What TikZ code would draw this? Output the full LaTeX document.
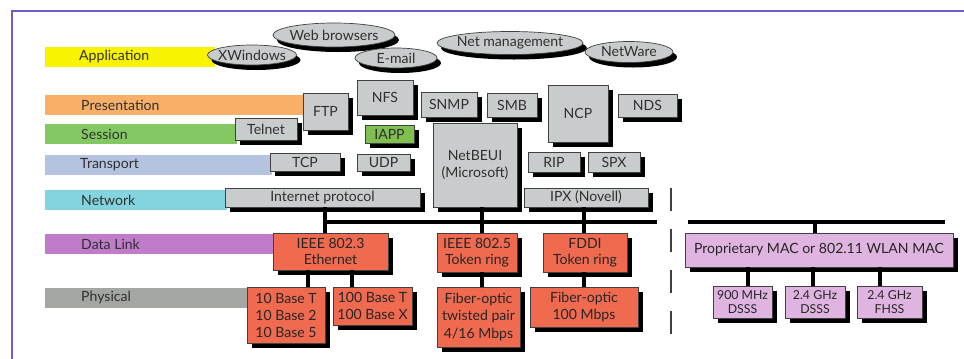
\documentclass[tikz,border=0pt]{standalone}
\usepackage{fontspec}
\setmainfont{Lato}
\usetikzlibrary{shapes.geometric}
\definecolor{boxgray}{HTML}{C8CCCC}
\definecolor{redbox}{HTML}{F06A50}
\definecolor{pinkbox}{HTML}{E0B4E0}
\definecolor{iappgreen}{HTML}{80C050}
\definecolor{framecol}{HTML}{6F5FC8}
\definecolor{appY}{HTML}{F8F400}
\definecolor{presO}{HTML}{F8B068}
\definecolor{sessG}{HTML}{84C864}
\definecolor{transB}{HTML}{B4C4E0}
\definecolor{netC}{HTML}{84D4E0}
\definecolor{dlP}{HTML}{C07CC8}
\definecolor{phyG}{HTML}{A4A6A2}
\definecolor{txt}{HTML}{303030}
\definecolor{shadowcol}{HTML}{000000}
% box with hard drop shadow: style, name, x1, y1, x2, y2, text
\newcommand\ShBox[7]{%
  \node[shadowbox,minimum width={(#5-#3)*0.03cm},minimum height={(#6-#4)*0.03cm}] (#2-shadow) at ({(#3+#5)/2+5},{(#4+#6)/2+5}) {};
  \node[#1,minimum width={(#5-#3)*0.03cm},minimum height={(#6-#4)*0.03cm}] (#2) at ({(#3+#5)/2},{(#4+#6)/2}) {#7};}
% ellipse with hard drop shadow: name, cx, cy, w, h, text
\newcommand\ShEll[6]{%
  \node[shadowbox,ellipse,minimum width={#4*0.03cm},minimum height={#5*0.03cm}] (#1-shadow) at (#2+4,#3+5) {};
  \node[gell={#4}{#5}] (#1) at (#2,#3) {#6};}
% plain coloured bar: name, colour, x1, y1, x2, y2
\newcommand\LBar[6]{%
  \node[bar,fill=#2,minimum width={(#5-#3)*0.03cm},minimum height={(#6-#4)*0.03cm}] (#1) at ({(#3+#5)/2},{(#4+#6)/2}) {};}
\begin{document}
\begin{tikzpicture}[x=0.03cm,y=-0.03cm,
  bar/.style={inner sep=0pt,draw=none},
  shadowbox/.style={fill=shadowcol,draw=none,inner sep=0pt,outer sep=0pt},
  lbl/.style={anchor=west,inner sep=0pt,font=\fontsize{12}{14}\selectfont,text=txt},
  gbox/.style={draw=black!75,fill=boxgray,line width=0.6pt,inner sep=0pt,align=center,font=\fontsize{12}{14}\selectfont,text=txt},
  rbox/.style={gbox,fill=redbox,text=black!85},
  pbox/.style={gbox,fill=pinkbox,text=black!85},
  gell/.style 2 args={ellipse,draw=black!75,fill=boxgray,line width=0.6pt,inner xsep=-2cm,inner ysep=-1cm,
     minimum width=#1*0.03cm,minimum height=#2*0.03cm,font=\fontsize{12}{14}\selectfont,text=txt},
  busline/.style={line width=3.4pt},
  stem/.style={line width=2.6pt},
  sepline/.style={line width=1.6pt,draw=black!75,dash pattern=on 0.69cm off 0.54cm}
]
\useasboundingbox (0,0) rectangle (964,358);
% frame
\draw[framecol,line width=2.2pt] (12,360) -- (12,11) -- (966,11);

% layer bars
\LBar{barapp}{appY}{45}{47}{215}{67}
\LBar{barpres}{presO}{45}{95}{305}{115}
\LBar{barsess}{sessG}{45}{124}{237}{144}
\LBar{bartrans}{transB}{45}{155}{272}{175}
\LBar{barnet}{netC}{45}{190}{227}{210}
\LBar{bardl}{dlP}{45}{234}{275}{254}
\LBar{barphy}{phyG}{45}{288}{249}{308}
\node[lbl] (lapp) at (79,57) {Application};
\node[lbl] (lpres) at (81,105) {Presentation};
\node[lbl] (lsess) at (81,134) {Session};
\node[lbl] (ltrans) at (80,165) {Transport};
\node[lbl] (lnet) at (81,200) {Network};
\node[lbl] (ldl) at (81,244) {Data Link};
\node[lbl] (lphy) at (81,298) {Physical};

% application ellipses
\ShEll{web}{334}{35}{122}{24}{Web browsers}
\ShEll{xw}{252}{55}{89}{20}{XWindows}
\ShEll{email}{396}{58}{82}{20}{E-mail}
\ShEll{netm}{510}{43}{146}{23}{Net management}
\ShEll{netw}{629}{52}{88}{21}{NetWare}

% upper boxes
\ShBox{gbox}{telnet}{235}{118}{297}{140}{Telnet}
\ShBox{gbox}{ftp}{303}{93}{348}{130}{FTP}
\ShBox{gbox}{nfs}{357}{80}{413}{115}{NFS}
\ShBox{gbox}{snmp}{421}{92}{477}{117}{SNMP}
\ShBox{gbox}{smb}{487}{93}{537}{117}{SMB}
\ShBox{gbox}{ncp}{548}{85}{608}{142}{NCP}
\ShBox{gbox}{nds}{618}{94}{677}{117}{NDS}
\ShBox{gbox,fill=iappgreen}{iapp}{365}{125}{414}{143}{IAPP}
\ShBox{gbox}{tcp}{270}{153}{340}{171}{TCP}
\ShBox{gbox}{udp}{357}{154}{410}{171}{UDP}
\ShBox{gbox}{nb}{433}{123}{517}{207}{NetBEUI\\(Microsoft)}
\ShBox{gbox}{rip}{528}{152}{580}{172}{RIP}
\ShBox{gbox}{spx}{588}{152}{640}{172}{SPX}
\ShBox{gbox}{ip}{225}{188}{420}{207}{Internet protocol}
\ShBox{gbox}{ipx}{524}{188}{648}{207}{IPX (Novell)}

% bus and stem positions
\coordinate (busL) at (325,222);
\coordinate (busR) at (657,222);
\coordinate (rbusL) at (688,222);
\coordinate (rbusR) at (945,222);
\coordinate (sip) at (325,0);
\coordinate (snb) at (482,0);
\coordinate (sipx) at (584,0);
\coordinate (se1) at (308,0);
\coordinate (se2) at (352,0);
\coordinate (smac) at (815,0);
\coordinate (sd1) at (748,0);
\coordinate (sd2) at (813,0);
\coordinate (sd3) at (880,0);

% lower boxes
\ShBox{rbox,font=\fontsize{12}{13.5}\selectfont}{eth}{273}{233}{388}{270}{IEEE 802.3\\Ethernet}
\ShBox{rbox,font=\fontsize{12}{13.5}\selectfont}{tr}{437}{233}{517}{272}{IEEE 802.5\\Token ring}
\ShBox{rbox,font=\fontsize{12}{13.5}\selectfont}{fddi}{543}{233}{627}{272}{FDDI\\Token ring}
\ShBox{rbox,font=\fontsize{12}{14.5}\selectfont}{b10}{247}{287}{325}{343}{10 Base T\\10 Base 2\\10 Base 5}
\ShBox{rbox,font=\fontsize{12}{14}\selectfont}{b100}{333}{287}{412}{325}{100 Base T\\100 Base X}
\ShBox{rbox,font=\fontsize{12}{15}\selectfont}{fotp}{437}{287}{520}{347}{Fiber-optic\\twisted pair\\4/16 Mbps}
\ShBox{rbox,font=\fontsize{12}{15}\selectfont}{fo}{530}{287}{638}{327}{Fiber-optic\\100 Mbps}

\ShBox{pbox}{mac}{685}{233}{953}{267}{Proprietary MAC or 802.11 WLAN MAC}
\ShBox{pbox,font=\fontsize{10.5}{11.5}\selectfont}{d1}{713}{286}{772}{318}{900 MHz\\DSSS}
\ShBox{pbox,font=\fontsize{10.5}{11.5}\selectfont}{d2}{785}{286}{845}{318}{2.4 GHz\\DSSS}
\ShBox{pbox,font=\fontsize{10.5}{11.5}\selectfont}{d3}{857}{286}{922}{318}{2.4 GHz\\FHSS}

% connectors
\draw[busline] (busL) -- (busR);
\draw[busline] (rbusL) -- (rbusR);
\draw[stem] (ip.south -| sip) -- (eth.north -| sip);
\draw[stem] (nb.south -| snb) -- (tr.north -| snb);
\draw[stem] (ipx.south -| sipx) -- (fddi.north -| sipx);
\draw[stem] (eth.south -| se1) -- (b10.north -| se1);
\draw[stem] (eth.south -| se2) -- (b100.north -| se2);
\draw[stem] (tr.south -| snb) -- (fotp.north -| snb);
\draw[stem] (fddi.south -| sipx) -- (fo.north -| sipx);
\draw[stem] (rbusL -| smac) -- (mac.north -| smac);
\draw[stem] (mac.south -| sd1) -- (d1.north -| sd1);
\draw[stem] (mac.south -| sd2) -- (d2.north -| sd2);
\draw[stem] (mac.south -| sd3) -- (d3.north -| sd3);

% separator
\coordinate (sepT) at (671,188);
\coordinate (sepB) at (671,337);
\draw[sepline] (sepT) -- (sepB);
\end{tikzpicture}
\end{document}
